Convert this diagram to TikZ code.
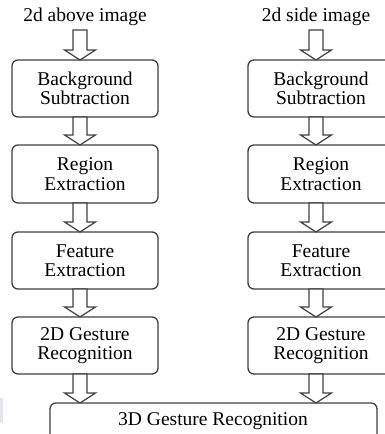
\documentclass[tikz,border=0pt]{standalone}
\usepackage{fontspec}
\setmainfont{Liberation Serif}
\begin{document}
\begin{tikzpicture}[x=1pt,y=-1pt,
  box/.style={draw=black!75, line width=1.3pt, rounded corners=6pt, fill=white},
  lbl/.style={font=\fontsize{19.5}{19.5}\selectfont, text=black, align=center, inner sep=0pt},
  blockarrow/.style={draw=black!75, line width=1.2pt, fill=white, line join=miter}]
\useasboundingbox (0,0) rectangle (385,434);
\clip (0,0) rectangle (385,434);
% faint artifact at left
\fill[blue!15!gray!18] (0,398) rectangle (2.5,423);
% arrow macro: from top y to tip y at centre x
\newcommand{\blockarr}[3]{%
  \draw[blockarrow] (#1-7,#2) -- (#1+7,#2) -- (#1+7,#3-10) -- (#1+15.5,#3-10) -- (#1,#3) -- (#1-15.5,#3-10) -- (#1-7,#3-10) -- cycle;}
% left column
\node[lbl] (la) at (85,17) {2d above image};
\draw[box] (12,60) rectangle (158,117);
\node[lbl] (l1) at (85,88.5) {Background\\Subtraction};
\draw[box] (12,145) rectangle (158,203);
\node[lbl] (l2) at (85,174) {Region\\Extraction};
\draw[box] (12,232) rectangle (158,289);
\node[lbl] (l3) at (85,260.5) {Feature\\Extraction};
\draw[box] (12,317) rectangle (158,374);
\node[lbl] (l4) at (85,345.5) {2D Gesture\\Recognition};
% right column
\node[lbl] (ra) at (316,17) {2d side image};
\draw[box] (248,60) rectangle (394,117);
\node[lbl] (r1) at (321,88.5) {Background\\Subtraction};
\draw[box] (248,145) rectangle (394,203);
\node[lbl] (r2) at (321,174) {Region\\Extraction};
\draw[box] (248,232) rectangle (394,289);
\node[lbl] (r3) at (321,260.5) {Feature\\Extraction};
\draw[box] (248,317) rectangle (394,374);
\node[lbl] (r4) at (321,345.5) {2D Gesture\\Recognition};
% bottom
\draw[box] (50,403) rectangle (377,445);
\node[lbl] (b) at (213,421) {3D Gesture Recognition};
% arrows
\blockarr{80}{30}{60}
\blockarr{80}{117}{145}
\blockarr{80}{203}{232}
\blockarr{80}{289}{317}
\blockarr{80}{374}{403}
\blockarr{316}{30}{60}
\blockarr{316}{117}{145}
\blockarr{316}{203}{232}
\blockarr{316}{289}{317}
\blockarr{316}{374}{403}
\end{tikzpicture}
\end{document}
